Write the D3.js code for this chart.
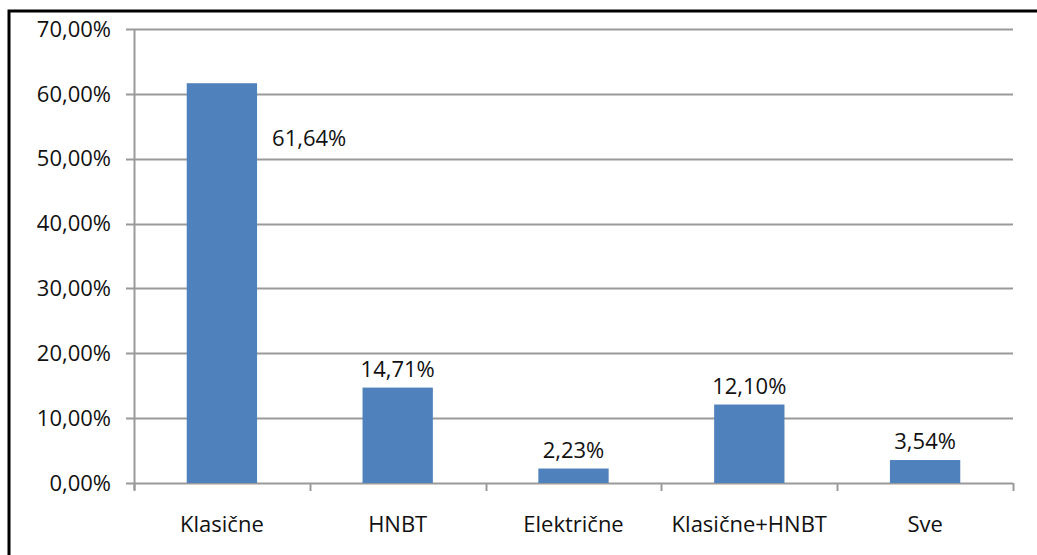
<!DOCTYPE html>
<html>
<head>
<meta charset="utf-8">
<script src="https://cdn.jsdelivr.net/npm/d3@7"></script>
<style>
    body { margin: 0; background: #fff; }
    svg { display: block; }
    text { font-family: "Open Sans", sans-serif; fill: #111; }
</style>
</head>
<body>
<div id="chart"></div>
<script>
// chart data
var categories = ['Klasične', 'HNBT', 'Električne', 'Klasične+HNBT', 'Sve'];
var values = [61.64, 14.71, 2.23, 12.10, 3.54];
var yTicks = [0, 10, 20, 30, 40, 50, 60, 70];

var width = 1037, height = 555;
var margin = {left: 134, right: 24, top: 29, bottom: 72};
var fontSize = 22;

var svg = d3.select('#chart').append('svg')
    .attr('width', width)
    .attr('height', height);

// outer frame (runs past the picture on the right and bottom)
svg.append('rect')
    .attr('x', 9).attr('y', 11)
    .attr('width', width + 20).attr('height', height + 20)
    .attr('fill', 'none')
    .attr('stroke', '#000')
    .attr('stroke-width', 3);

var x = d3.scaleBand()
    .domain(categories)
    .range([margin.left, width - margin.right])
    .paddingInner(0.6)
    .paddingOuter(0.3);

var y = d3.scaleLinear()
    .domain([0, 70])
    .range([height - margin.bottom, margin.top]);

var fmt = function(v) { return v.toFixed(2).replace('.', ',') + '%'; };

// gridlines
svg.append('g')
    .selectAll('line')
    .data(yTicks)
    .join('line')
    .attr('x1', margin.left - 8)
    .attr('x2', width - margin.right)
    .attr('y1', function(d) { return Math.round(y(d)) + 0.5; })
    .attr('y2', function(d) { return Math.round(y(d)) + 0.5; })
    .attr('stroke', '#9a9a9a')
    .attr('stroke-width', 2);

// y axis line
svg.append('line')
    .attr('x1', margin.left + 0.5).attr('x2', margin.left + 0.5)
    .attr('y1', y(70)).attr('y2', y(0) + 7)
    .attr('stroke', '#9a9a9a')
    .attr('stroke-width', 2);

// x ticks at band boundaries
var boundaries = d3.range(categories.length + 1).map(function(i) {
    return margin.left + i * (width - margin.right - margin.left) / categories.length;
});
svg.append('g')
    .selectAll('line')
    .data(boundaries)
    .join('line')
    .attr('x1', function(d) { return Math.round(d) + 0.5; })
    .attr('x2', function(d) { return Math.round(d) + 0.5; })
    .attr('y1', y(0))
    .attr('y2', y(0) + 8)
    .attr('stroke', '#9a9a9a')
    .attr('stroke-width', 2);

// y tick labels
svg.append('g')
    .selectAll('text')
    .data(yTicks)
    .join('text')
    .attr('x', 111)
    .attr('y', function(d) { return y(d); })
    .attr('dy', '0.35em')
    .attr('text-anchor', 'end')
    .attr('font-size', fontSize)
    .text(fmt);

// bars
svg.append('g')
    .selectAll('rect')
    .data(values)
    .join('rect')
    .attr('x', function(d, i) { return x(categories[i]); })
    .attr('width', x.bandwidth())
    .attr('y', function(d) { return y(d); })
    .attr('height', function(d) { return y(0) - y(d); })
    .attr('fill', '#4f81bd');

// value labels (first one sits beside the bar)
svg.append('g')
    .selectAll('text')
    .data(values)
    .join('text')
    .attr('x', function(d, i) {
        if (i === 0) return x(categories[i]) + x.bandwidth() + 15;
        return x(categories[i]) + x.bandwidth() / 2;
    })
    .attr('y', function(d, i) {
        if (i === 0) return y(d) + 63;
        return y(d) - 11;
    })
    .attr('text-anchor', function(d, i) { return i === 0 ? 'start' : 'middle'; })
    .attr('font-size', fontSize)
    .text(fmt);

// category labels
svg.append('g')
    .selectAll('text')
    .data(categories)
    .join('text')
    .attr('x', function(d) { return x(d) + x.bandwidth() / 2; })
    .attr('y', y(0) + 49)
    .attr('text-anchor', 'middle')
    .attr('font-size', fontSize)
    .text(function(d) { return d; });
</script>
</body>
</html>
